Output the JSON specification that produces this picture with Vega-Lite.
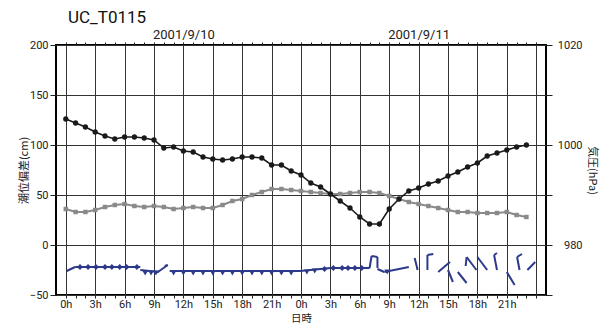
{
  "$schema": "https://vega.github.io/schema/vega-lite/v6.json",
  "width": 490,
  "height": 250,
  "autosize": {"type": "none"},
  "padding": {"left": 56, "top": 45, "right": 67, "bottom": 30},
  "title": {"text": "UC_T0115", "anchor": "start", "frame": "group", "fontSize": 17, "fontWeight": "normal", "font": "Roboto", "color": "#111", "dx": 12, "offset": 1},
  "datasets": {
    "series": [
      {"h": 0, "tide": 126, "pres": 987.2}, {"h": 1, "tide": 122, "pres": 986.6}, {"h": 2, "tide": 118, "pres": 986.6}, {"h": 3, "tide": 113, "pres": 987.0},
      {"h": 4, "tide": 109, "pres": 987.6}, {"h": 5, "tide": 106, "pres": 988.0}, {"h": 6, "tide": 108, "pres": 988.2}, {"h": 7, "tide": 108, "pres": 987.8},
      {"h": 8, "tide": 107, "pres": 987.6}, {"h": 9, "tide": 105, "pres": 987.8}, {"h": 10, "tide": 97, "pres": 987.6}, {"h": 11, "tide": 98, "pres": 987.2},
      {"h": 12, "tide": 94, "pres": 987.4}, {"h": 13, "tide": 93, "pres": 987.6}, {"h": 14, "tide": 88, "pres": 987.4}, {"h": 15, "tide": 86, "pres": 987.4},
      {"h": 16, "tide": 85, "pres": 988.0}, {"h": 17, "tide": 86, "pres": 988.8}, {"h": 18, "tide": 88, "pres": 989.2}, {"h": 19, "tide": 88, "pres": 990.0},
      {"h": 20, "tide": 87, "pres": 990.6}, {"h": 21, "tide": 80, "pres": 991.2}, {"h": 22, "tide": 80, "pres": 991.2}, {"h": 23, "tide": 74, "pres": 991.0},
      {"h": 24, "tide": 70, "pres": 990.8}, {"h": 25, "tide": 62, "pres": 990.6}, {"h": 26, "tide": 58, "pres": 990.4}, {"h": 27, "tide": 51, "pres": 990.2},
      {"h": 28, "tide": 44, "pres": 990.2}, {"h": 29, "tide": 37, "pres": 990.4}, {"h": 30, "tide": 28, "pres": 990.6}, {"h": 31, "tide": 21, "pres": 990.6},
      {"h": 32, "tide": 21, "pres": 990.4}, {"h": 33, "tide": 36, "pres": 989.8}, {"h": 34, "tide": 46, "pres": 989.2}, {"h": 35, "tide": 54, "pres": 988.6},
      {"h": 36, "tide": 57, "pres": 988.2}, {"h": 37, "tide": 61, "pres": 987.8}, {"h": 38, "tide": 64, "pres": 987.4}, {"h": 39, "tide": 69, "pres": 987.0},
      {"h": 40, "tide": 73, "pres": 986.6}, {"h": 41, "tide": 78, "pres": 986.6}, {"h": 42, "tide": 82, "pres": 986.4}, {"h": 43, "tide": 89, "pres": 986.4},
      {"h": 44, "tide": 92, "pres": 986.4}, {"h": 45, "tide": 95, "pres": 986.6}, {"h": 46, "tide": 98, "pres": 986.0}, {"h": 47, "tide": 100, "pres": 985.6}
    ],
    "windLines": [
      {"h": 0.1, "v": -26, "h2": 0.95, "v2": -22},
      {"h": 0.95, "v": -22, "h2": 7.6, "v2": -22},
      {"h": 7.6, "v": -25, "h2": 9.5, "v2": -27},
      {"h": 9.4, "v": -27, "h2": 10.4, "v2": -20},
      {"h": 10.1, "v": -21, "h2": 10.4, "v2": -20},
      {"h": 10.6, "v": -26, "h2": 23.9, "v2": -26},
      {"h": 23.9, "v": -26, "h2": 27.0, "v2": -23},
      {"h": 27.0, "v": -23, "h2": 31.0, "v2": -23},
      {"h": 31.0, "v": -23, "h2": 31.2, "v2": -11},
      {"h": 31.2, "v": -11, "h2": 31.8, "v2": -12},
      {"h": 31.8, "v": -12, "h2": 31.8, "v2": -23},
      {"h": 31.8, "v": -24, "h2": 32.5, "v2": -27},
      {"h": 32.5, "v": -27, "h2": 35.0, "v2": -22},
      {"h": 35.6, "v": -13, "h2": 35.9, "v2": -25},
      {"h": 36.9, "v": -10, "h2": 36.9, "v2": -25},
      {"h": 36.9, "v": -10, "h2": 37.5, "v2": -9},
      {"h": 38.0, "v": -27, "h2": 39.2, "v2": -17},
      {"h": 39.0, "v": -25, "h2": 39.5, "v2": -37},
      {"h": 40.0, "v": -27, "h2": 40.9, "v2": -38},
      {"h": 40.9, "v": -12, "h2": 41.9, "v2": -25},
      {"h": 40.9, "v": -12, "h2": 40.8, "v2": -21},
      {"h": 42.0, "v": -12, "h2": 43.0, "v2": -25},
      {"h": 43.7, "v": -10, "h2": 44.0, "v2": -25},
      {"h": 43.7, "v": -10, "h2": 44.0, "v2": -8},
      {"h": 45.0, "v": -27, "h2": 45.8, "v2": -40},
      {"h": 46.05, "v": -12, "h2": 46.3, "v2": -25},
      {"h": 46.05, "v": -12, "h2": 46.55, "v2": -9},
      {"h": 47.1, "v": -25, "h2": 47.9, "v2": -17}
    ],
    "windFlags": [
      {"h": 1.45, "v": -22, "s": "diamond"}, {"h": 2.27, "v": -22, "s": "diamond"}, {"h": 3.08, "v": -22, "s": "diamond"}, {"h": 4.0, "v": -22, "s": "diamond"},
      {"h": 4.7, "v": -22, "s": "diamond"}, {"h": 5.5, "v": -22, "s": "diamond"}, {"h": 6.2, "v": -22, "s": "diamond"}, {"h": 7.25, "v": -22, "s": "diamond"},
      {"h": 8.1, "v": -28, "s": "triangle-down"}, {"h": 8.7, "v": -28, "s": "triangle-down"}, {"h": 9.2, "v": -28, "s": "triangle-down"},
      {"h": 11, "v": -28, "s": "triangle-down"}, {"h": 12, "v": -28, "s": "triangle-down"}, {"h": 13, "v": -28, "s": "triangle-down"}, {"h": 14, "v": -28, "s": "triangle-down"},
      {"h": 15, "v": -28, "s": "triangle-down"}, {"h": 16, "v": -28, "s": "triangle-down"}, {"h": 17, "v": -28, "s": "triangle-down"}, {"h": 18, "v": -28, "s": "triangle-down"},
      {"h": 19, "v": -28, "s": "triangle-down"}, {"h": 20, "v": -28, "s": "triangle-down"}, {"h": 21, "v": -28, "s": "triangle-down"}, {"h": 22, "v": -28, "s": "triangle-down"},
      {"h": 23, "v": -28, "s": "triangle-down"},
      {"h": 24.6, "v": -27, "s": "triangle-down"}, {"h": 25.4, "v": -26, "s": "triangle-down"}, {"h": 26.4, "v": -24, "s": "diamond"}, {"h": 27.3, "v": -23, "s": "diamond"},
      {"h": 28.2, "v": -23, "s": "diamond"}, {"h": 28.8, "v": -23, "s": "diamond"}, {"h": 29.5, "v": -23, "s": "diamond"}, {"h": 30.2, "v": -23, "s": "diamond"},
      {"h": 32.8, "v": -27, "s": "triangle-down"}
    ]
  },
  "layer": [
    {
      "data": {"name": "series"},
      "mark": {"type": "line", "color": "#8a8a8a", "strokeWidth": 2, "point": {"shape": "square", "filled": true, "size": 20, "color": "#8a8a8a"}},
      "encoding": {
        "x": {"field": "h", "type": "quantitative", "scale": {"domain": [-1, 49], "nice": false, "zero": false},
          "axis": {"orient": "top", "title": null, "values": [0,1,2,3,4,5,6,7,8,9,10,11,12,13,14,15,16,17,18,19,20,21,22,23,24,25,26,27,28,29,30,31,32,33,34,35,36,37,38,39,40,41,42,43,44,45,46,47,48],
            "labelExpr": "datum.value == 12 ? '2001/9/10' : (datum.value == 36 ? '2001/9/11' : '')", "labelFontSize": 13, "labelOverlap": false, "labelPadding": 1,
            "tickSize": 3, "grid": false, "domain": false}},
        "y": {"field": "pres", "type": "quantitative", "scale": {"domain": [970, 1020], "nice": false, "zero": false},
          "axis": {"orient": "right", "title": "気圧(hPa)", "values": [970, 980, 990, 1000, 1010, 1020], "labelExpr": "datum.value % 20 == 0 ? datum.value : ''",
            "labelAlign": "right", "labelPadding": 30, "tickSize": 6, "grid": false, "domain": false, "titlePadding": 4, "labelOverlap": false}}
      }
    },
    {
      "data": {"name": "series"},
      "mark": {"type": "line", "color": "#1a1a1a", "strokeWidth": 1.6, "point": {"shape": "circle", "filled": true, "size": 28, "color": "#1a1a1a"}},
      "encoding": {
        "x": {"field": "h", "type": "quantitative", "scale": {"domain": [-1, 49], "nice": false, "zero": false},
          "axis": {"orient": "bottom", "title": "日時", "values": [0,1,2,3,4,5,6,7,8,9,10,11,12,13,14,15,16,17,18,19,20,21,22,23,24,25,26,27,28,29,30,31,32,33,34,35,36,37,38,39,40,41,42,43,44,45,46,47,48],
            "labelExpr": "datum.value % 3 == 0 && datum.value < 48 ? (datum.value % 24) + 'h' : ''", "labelOverlap": false, "labelPadding": 0,
            "tickSize": 3, "grid": true, "gridColor": "#333", "gridWidth": 1,
            "gridOpacity": {"condition": {"test": "datum.value % 3 == 0", "value": 1}, "value": 0},
            "domain": false, "titlePadding": 4, "titleFontSize": 10.5}},
        "y": {"field": "tide", "type": "quantitative", "scale": {"domain": [-50, 200], "nice": false, "zero": false},
          "axis": {"orient": "left", "title": "潮位偏差(cm)", "values": [-50, 0, 50, 100, 150, 200], "tickSize": 6, "labelPadding": 2,
            "grid": true, "gridColor": "#333", "gridWidth": 1, "domain": false, "titlePadding": 0}}
      }
    },
    {
      "data": {"name": "windLines"},
      "mark": {"type": "rule", "color": "#2d3a8c", "strokeWidth": 2},
      "encoding": {
        "x": {"field": "h", "type": "quantitative", "scale": {"domain": [-1, 49], "nice": false, "zero": false}, "axis": null},
        "x2": {"field": "h2"},
        "y": {"field": "v", "type": "quantitative", "scale": {"domain": [-50, 200], "nice": false, "zero": false}, "axis": null},
        "y2": {"field": "v2"}
      }
    },
    {
      "data": {"name": "windFlags"},
      "mark": {"type": "point", "filled": true, "color": "#2d3a8c", "opacity": 1, "size": 34},
      "encoding": {
        "x": {"field": "h", "type": "quantitative", "scale": {"domain": [-1, 49], "nice": false, "zero": false}, "axis": null},
        "y": {"field": "v", "type": "quantitative", "scale": {"domain": [-50, 200], "nice": false, "zero": false}, "axis": null},
        "shape": {"field": "s", "type": "nominal", "scale": null, "legend": null}
      }
    }
  ],
  "resolve": {"scale": {"y": "independent"}, "axis": {"x": "independent", "y": "independent"}},
  "config": {
    "view": {"stroke": "#000", "strokeWidth": 2},
    "background": "white",
    "axis": {"labelFont": "Roboto", "labelFontSize": 11, "labelColor": "#222", "titleFont": "Noto Sans CJK JP", "titleFontSize": 11, "titleFontWeight": "normal", "titleColor": "#222", "tickColor": "#222", "tickWidth": 1}
  }
}
